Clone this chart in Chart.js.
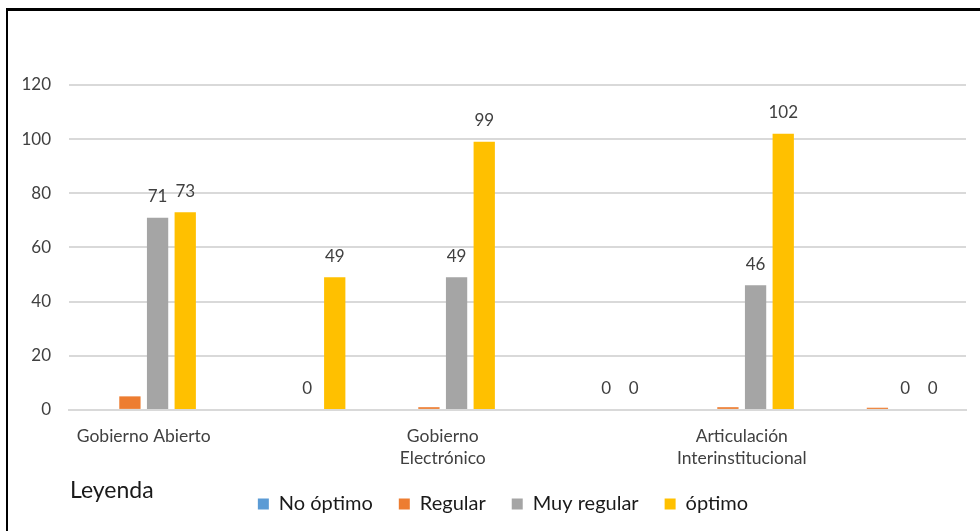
<!DOCTYPE html>
<html>
<head>
<meta charset="utf-8">
<script src="https://cdn.jsdelivr.net/npm/chart.js@4"></script>
<style>
  html, body { margin: 0; padding: 0; background: #fff; overflow: hidden; }
  #wrap { position: relative; width: 980px; height: 531px; overflow: hidden; }
  #frame { position: absolute; left: 6px; top: 8px; right: -10px; bottom: -10px;
           border-left: 2px solid #000; border-top: 3px solid #000; pointer-events: none; }
</style>
</head>
<body>
<div id="wrap">
  <canvas id="chart" width="980" height="539"></canvas>
  <div id="frame"></div>
</div>
<script>
const categories = ["Gobierno Abierto", "", ["Gobierno", "Electrónico"], "", ["Articulación", "Interinstitucional"], ""];
const noOptimo = [null, null, null, null, null, null];
const regular = [5, null, 1, null, 1, 0.8];
const muyRegular = [71, 0, 49, 0, 46, 0];
const optimo = [73, 49, 99, 0, 102, 0];
const yTicks = [0, 20, 40, 60, 80, 100, 120];

const textColor = "#404040";
const fontName = "Lato, 'Noto Sans', sans-serif";

// etiquetas de valor solo en "Muy regular" y "óptimo"
const valueLabels = {
  id: "valueLabels",
  afterDatasetsDraw(chart) {
    const ctx = chart.ctx;
    ctx.save();
    ctx.font = "17px " + fontName;
    ctx.fillStyle = textColor;
    ctx.textAlign = "center";
    ctx.textBaseline = "middle";
    [2, 3].forEach((di) => {
      const meta = chart.getDatasetMeta(di);
      meta.data.forEach((bar, i) => {
        const v = chart.data.datasets[di].data[i];
        if (v === null) return;
        ctx.fillText(String(v), bar.x, bar.y - 21);
      });
    });
    ctx.restore();
  }
};

// mover la leyenda un poco (como en el original) y escribir "Leyenda"
const leyenda = {
  id: "leyenda",
  afterLayout(chart) {
    const lg = chart.legend;
    lg.left += 20; lg.right += 20;
    lg.top -= 16; lg.bottom -= 16;
  },
  afterDraw(chart) {
    const ctx = chart.ctx;
    ctx.save();
    ctx.font = "23px " + fontName;
    ctx.fillStyle = "#1a1a1a";
    ctx.textAlign = "left";
    ctx.textBaseline = "middle";
    ctx.fillText("Leyenda", 70, 491);
    ctx.restore();
  }
};

new Chart(document.getElementById("chart"), {
  type: "bar",
  data: {
    labels: categories,
    datasets: [
      { label: "No óptimo", data: noOptimo, backgroundColor: "#5b9bd5" },
      { label: "Regular", data: regular, backgroundColor: "#ed7d31" },
      { label: "Muy regular", data: muyRegular, backgroundColor: "#a5a5a5" },
      { label: "óptimo", data: optimo, backgroundColor: "#ffc000" }
    ]
  },
  options: {
    responsive: false,
    animation: false,
    skipNull: false,
    datasets: { bar: { categoryPercentage: 0.74, barPercentage: 0.77 } },
    layout: { padding: { left: 0, right: 14, top: 85, bottom: -1 } },
    plugins: {
      title: { display: false },
      tooltip: { enabled: false },
      legend: {
        position: "bottom",
        labels: {
          boxWidth: 11,
          boxHeight: 11,
          padding: 26,
          color: "#1a1a1a",
          font: { family: fontName, size: 20 }
        }
      }
    },
    scales: {
      x: {
        grid: { display: false, drawTicks: false },
        border: { color: "#d9d9d9", width: 2 },
        ticks: {
          color: textColor,
          padding: 15,
          maxRotation: 0,
          autoSkip: false,
          font: { family: fontName, size: 17.5, lineHeight: 1.26 }
        }
      },
      y: {
        min: 0,
        max: 120,
        afterFit(scale) { scale.width = 69; },
        afterBuildTicks(scale) { scale.ticks = yTicks.map((v) => ({ value: v })); },
        grid: { color: "#d9d9d9", lineWidth: 2, drawTicks: false },
        border: { display: false },
        ticks: {
          color: textColor,
          padding: 18,
          font: { family: fontName, size: 17 }
        }
      }
    }
  },
  plugins: [valueLabels, leyenda]
});
</script>
</body>
</html>
